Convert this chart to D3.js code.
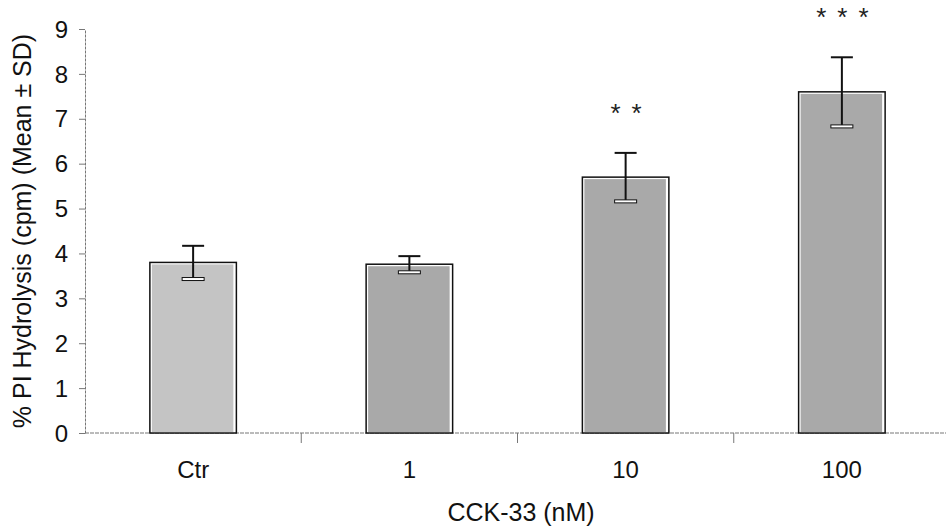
<!DOCTYPE html>
<html>
<head>
    <meta charset="utf-8"/>
    <script src="https://d3js.org/d3.v7.min.js"></script>
    <style>
        body { margin: 0; background: #fff; }
        text { font-family: "Liberation Sans", Arial, sans-serif; }
    </style>
</head>
<body>
<div id="chart"></div>
<script>
    const categories = ['Ctr', '1', '10', '100']
    const means = [3.8, 3.76, 5.7, 7.6]
    const sds = [0.37, 0.18, 0.54, 0.77]
    const stars = ['', '', '**', '***']
    const yTicks = [0, 1, 2, 3, 4, 5, 6, 7, 8, 9]

    const W = 946, H = 530
    const margin = { top: 29, right: -4, bottom: 97, left: 85 }
    const width = W - margin.left - margin.right
    const height = H - margin.top - margin.bottom

    const svg = d3.select('#chart').append('svg')
        .attr('width', W).attr('height', H)
    const g = svg.append('g').attr('transform', `translate(${margin.left},${margin.top})`)

    const x = d3.scaleBand().domain(categories).range([0, width]).paddingInner(0.6).paddingOuter(0.3)
    const y = d3.scaleLinear().domain([0, 9]).range([height, 0])

    // axes
    const yAxis = g.append('g').call(d3.axisLeft(y).tickValues(yTicks).tickSize(6).tickSizeOuter(0))
    yAxis.select('.domain').attr('stroke', '#777').attr('stroke-dasharray', '3 1')
    yAxis.selectAll('.tick line').attr('stroke', '#777')
    yAxis.selectAll('.tick text').attr('font-size', 24).attr('x', -17).attr('dy', '0.34em').attr('fill', '#111')

    const bounds = d3.scaleLinear().domain([0, categories.length]).range([0, width])
    const xAxis = g.append('g').attr('transform', `translate(0,${height})`)
    xAxis.append('line').attr('x1', 0).attr('x2', width).attr('stroke', '#777').attr('stroke-dasharray', '4 1')
    xAxis.selectAll('line.t').data(d3.range(1, categories.length)).join('line')
        .attr('class', 't')
        .attr('x1', d => bounds(d)).attr('x2', d => bounds(d))
        .attr('y1', 0).attr('y2', 10).attr('stroke', '#777')
    xAxis.selectAll('text').data(categories).join('text')
        .attr('x', d => x(d) + x.bandwidth() / 2)
        .attr('y', 45)
        .attr('text-anchor', 'middle')
        .attr('font-size', 24).attr('fill', '#111')
        .text(d => d)

    // bars
    const bw = x.bandwidth()
    categories.forEach((c, i) => {
        const bx = x(c), by = y(means[i])
        const fill = i === 0 ? '#c4c4c4' : '#a9a9a9'
        g.append('rect')
            .attr('x', bx).attr('y', by).attr('width', bw).attr('height', y(0) - by)
            .attr('fill', '#fff').attr('stroke', '#111').attr('stroke-width', 1.5)
        g.append('rect')
            .attr('x', bx + 2).attr('y', by + 2).attr('width', bw - 5).attr('height', y(0) - by - 3)
            .attr('fill', fill)
    })

    // error bars
    categories.forEach((c, i) => {
        const cx = x(c) + bw / 2
        const top = y(means[i] + sds[i]), bot = y(means[i] - sds[i])
        g.append('line').attr('x1', cx).attr('x2', cx).attr('y1', top).attr('y2', bot)
            .attr('stroke', '#111').attr('stroke-width', 2)
        g.append('line').attr('x1', cx - 11).attr('x2', cx + 11).attr('y1', top).attr('y2', top)
            .attr('stroke', '#111').attr('stroke-width', 2)
        g.append('rect').attr('x', cx - 11).attr('y', bot - 1.5).attr('width', 22).attr('height', 3)
            .attr('fill', '#fff').attr('stroke', '#111').attr('stroke-width', 1)
    })

    // significance stars
    g.selectAll('text.star').data(categories).join('text')
        .attr('class', 'star')
        .attr('x', d => x(d) + bw / 2 + 6)
        .attr('y', (d, i) => y(means[i] + sds[i]) - 31)
        .attr('text-anchor', 'middle')
        .attr('font-size', 26).attr('letter-spacing', 11).attr('fill', '#222')
        .text((d, i) => stars[i])

    // labels
    svg.append('text')
        .attr('transform', `translate(22,${margin.top + height / 2}) rotate(-90)`)
        .attr('text-anchor', 'middle').attr('dominant-baseline', 'central')
        .attr('font-size', 25).attr('fill', '#111')
        .text('% PI Hydrolysis (cpm) (Mean ± SD)')
    svg.append('text')
        .attr('x', 521).attr('y', 521)
        .attr('text-anchor', 'middle').attr('font-size', 25).attr('fill', '#111')
        .text('CCK-33 (nM)')
</script>
</body>
</html>
